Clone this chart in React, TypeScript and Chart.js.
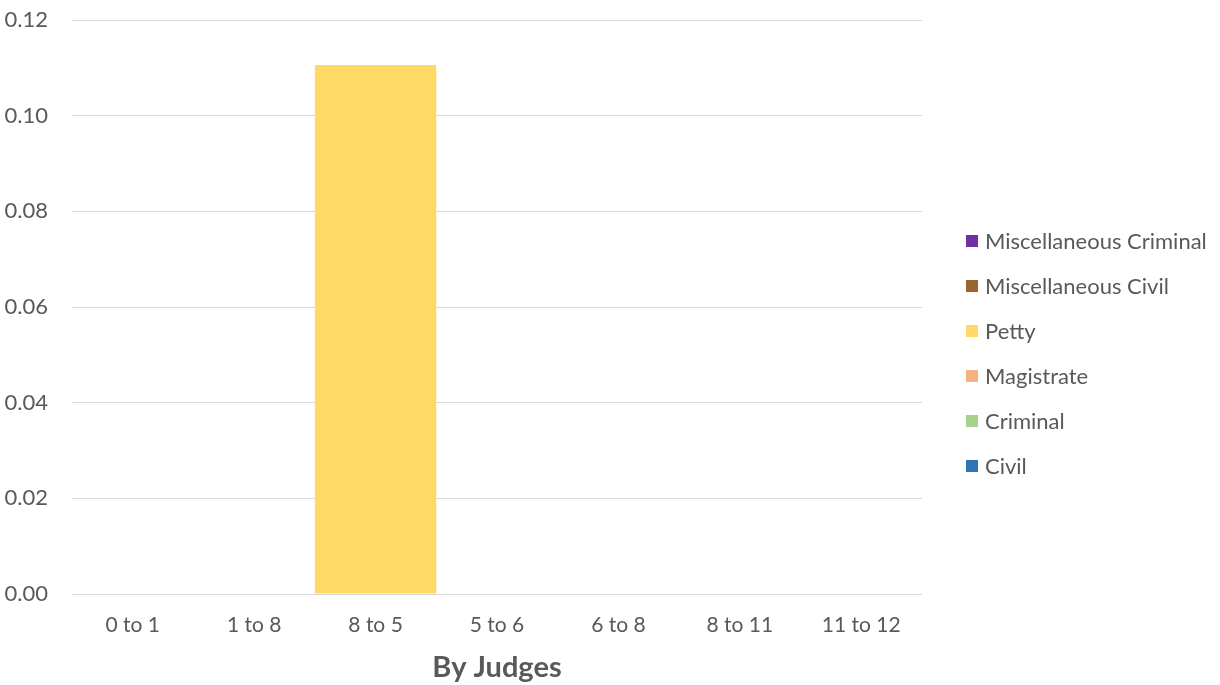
import React, { useEffect, useRef } from "react";
import { Chart, registerables } from "chart.js";

Chart.register(...registerables);

const categories = ["0 to 1", "1 to 8", "8 to 5", "5 to 6", "6 to 8", "8 to 11", "11 to 12"];
const seriesNames = ["Civil", "Criminal", "Magistrate", "Petty", "Miscellaneous Civil", "Miscellaneous Criminal"];
const seriesColors = ["#2E75B6", "#A9D18E", "#F4B183", "#FFD966", "#996633", "#7030A0"];
const civil = [0, 0, 0, 0, 0, 0, 0];
const criminal = [0, 0, 0, 0, 0, 0, 0];
const magistrate = [0, 0, 0, 0, 0, 0, 0];
const petty = [0, 0, 0.1106, 0, 0, 0, 0];
const miscCivil = [0, 0, 0, 0, 0, 0, 0];
const miscCriminal = [0, 0, 0, 0, 0, 0, 0];
const seriesValues = [civil, criminal, magistrate, petty, miscCivil, miscCriminal];
const yTicks = [0, 0.02, 0.04, 0.06, 0.08, 0.1, 0.12];

const FONT = "Lato, 'Open Sans', sans-serif";
const GRAY = "#595959";

const legendPlugin = {
  id: "customLegend",
  afterDraw(chart: any) {
    const ctx = chart.ctx;
    const ds = chart.data.datasets;
    ctx.save();
    ctx.font = `22px ${FONT}`;
    ctx.textBaseline = "middle";
    ctx.textAlign = "left";
    const n = ds.length;
    for (let i = 0; i < n; i++) {
      const d = ds[n - 1 - i];
      const y = 241 + i * 45;
      ctx.fillStyle = d.backgroundColor;
      ctx.fillRect(966, y - 6, 12, 12);
      ctx.fillStyle = GRAY;
      ctx.fillText(d.label, 985, y + 1);
    }
    ctx.restore();
  },
};

export default function App() {
  const ref = useRef<HTMLCanvasElement>(null);
  useEffect(() => {
    if (!ref.current) return;
    const chart = new Chart(ref.current, {
      type: "bar",
      data: {
        labels: categories,
        datasets: seriesNames.map((name, i) => ({
          label: name,
          data: seriesValues[i],
          backgroundColor: seriesColors[i],
          borderWidth: 0,
          inflateAmount: 0,
          barPercentage: 1,
          categoryPercentage: 1,
        })),
      },
      options: {
        animation: false,
        responsive: false,
        devicePixelRatio: 1,
        layout: { padding: { left: 0, right: 298, top: 20, bottom: 0 } },
        plugins: { legend: { display: false }, tooltip: { enabled: false } },
        scales: {
          x: {
            stacked: true,
            grid: { display: false, drawTicks: false },
            border: { display: false },
            ticks: { color: GRAY, font: { family: FONT, size: 21 }, padding: 19 },
            title: {
              display: true,
              text: "By Judges",
              color: GRAY,
              font: { family: FONT, size: 29, weight: "bold" },
              padding: { top: 0, bottom: 0 },
            },
            afterFit: (s: any) => { s.height = 91; },
          },
          y: {
            stacked: true,
            min: 0,
            max: 0.12,
            afterBuildTicks: (s: any) => { s.ticks = yTicks.map((v) => ({ value: v })); },
            grid: { color: "#D9D9D9", lineWidth: 1, drawTicks: false },
            border: { display: false },
            ticks: {
              color: GRAY,
              font: { family: FONT, size: 22 },
              padding: 24,
              callback: (v: any) => Number(v).toFixed(2),
            },
            afterFit: (s: any) => { s.width = 72; s.paddingTop = 0; s.paddingBottom = 0; },
          },
        },
      },
      plugins: [legendPlugin],
    });
    return () => chart.destroy();
  }, []);
  return (
    <div style={{ position: "fixed", left: 0, top: 0, width: 1220, height: 685, background: "#fff" }}>
      <canvas ref={ref} width={1220} height={685} style={{ width: 1220, height: 685, display: "block" }} />
    </div>
  );
}
